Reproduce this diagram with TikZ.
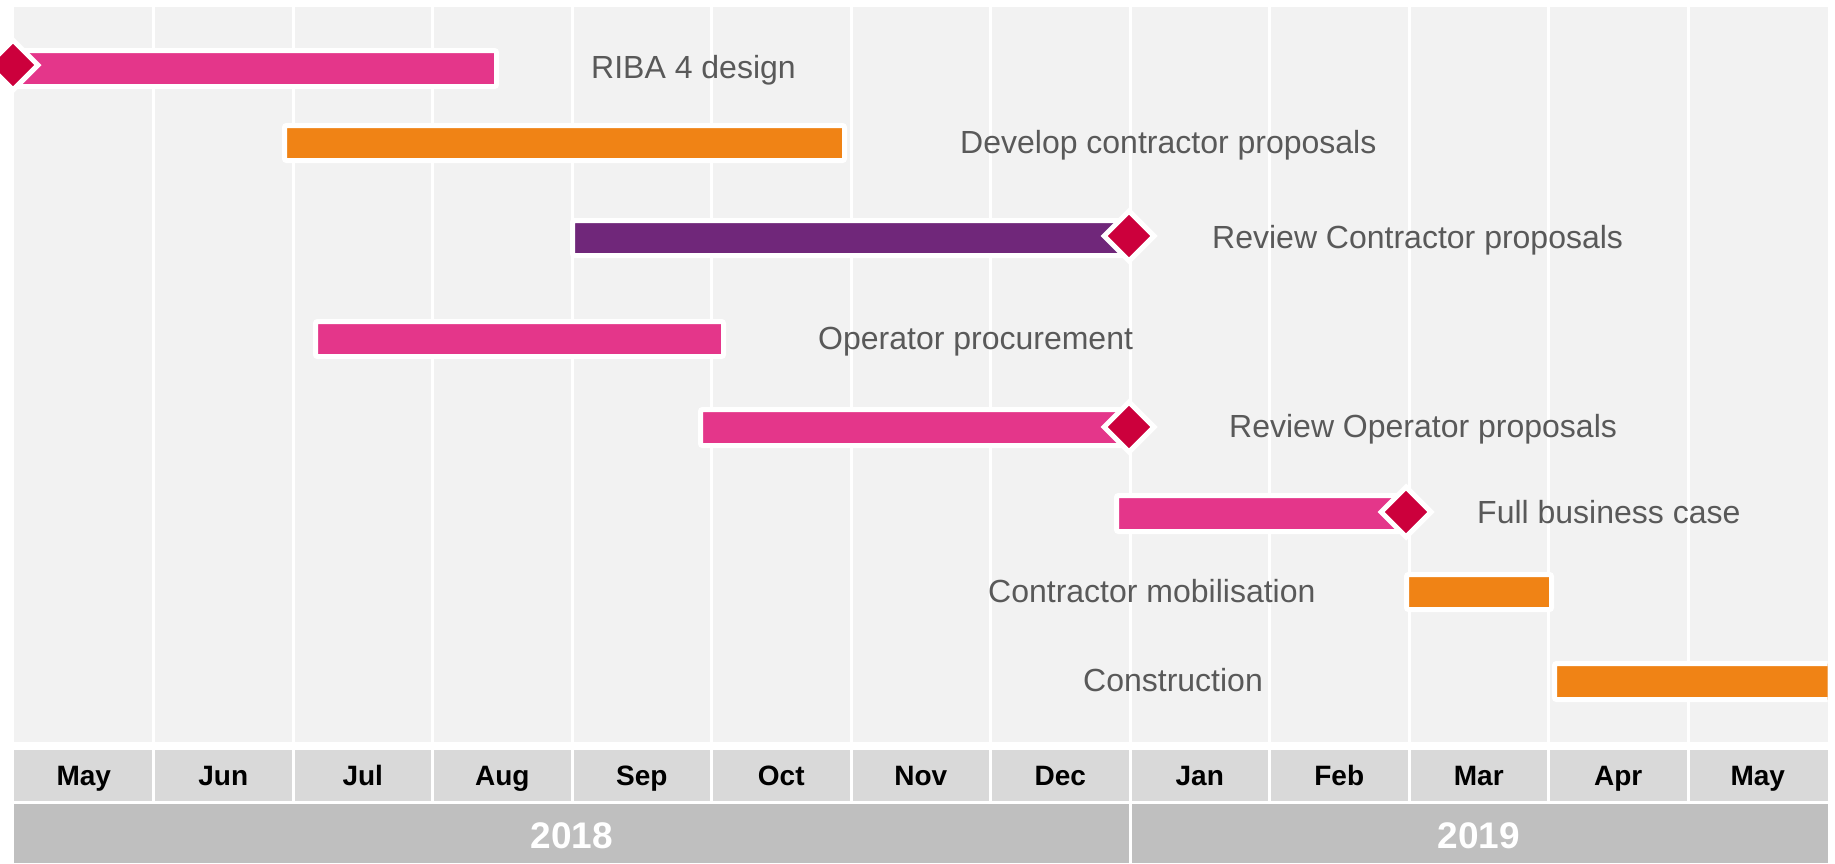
\documentclass[tikz,border=0pt]{standalone}
\usepackage{fontspec}
\setmainfont{Liberation Sans}
\usetikzlibrary{shapes.geometric}
\definecolor{chartbg}{HTML}{F2F2F2}
\definecolor{monthbg}{HTML}{D9D9D9}
\definecolor{yearbg}{HTML}{BFBFBF}
\definecolor{lbltext}{HTML}{595959}
\definecolor{gpink}{HTML}{E4368A}
\definecolor{gorange}{HTML}{F08315}
\definecolor{gpurple}{HTML}{70277A}
\definecolor{gcrimson}{HTML}{CC003C}
\tikzset{
  ganttbar/.style={draw=white, line width=5pt, rounded corners=2pt, inner sep=0pt, outer sep=0pt, rectangle},
  milestone/.style={diamond, aspect=1, draw=white, line width=5pt, fill=gcrimson, inner sep=0pt, minimum width=52pt, minimum height=52pt},
  tasklbl/.style={anchor=base west, inner sep=0pt, text=lbltext, font=\fontsize{32}{38}\selectfont},
  monthlbl/.style={anchor=base, inner sep=0pt, text=black, font=\fontsize{28}{34}\selectfont\bfseries},
  yearlbl/.style={anchor=base, inner sep=0pt, text=white, font=\fontsize{37}{44}\selectfont\bfseries},
  gridline/.style={white, line width=3pt}
}
\newcommand\mkbar[6]{\node[ganttbar, fill=#6, minimum width={#3-#2+5}, minimum height={#5-#4+5}] (#1) at ({(#2+#3)/2},{(#4+#5)/2}) {};}
\begin{document}
\begin{tikzpicture}[x=1pt,y=-1pt]
\useasboundingbox (0,0) rectangle (1835,863);
\fill[white] (0,0) rectangle (1835,863);
% chart area
\fill[chartbg] (14,7) rectangle (1827.5,742);
\foreach \i in {1,...,12} {
  \draw[gridline] ({14+139.5*\i},7) -- ({14+139.5*\i},742);
}
% month row
\fill[monthbg] (14,750) rectangle (1827.5,801);
\foreach \i in {1,...,12} {
  \draw[gridline] ({14+139.5*\i},750) -- ({14+139.5*\i},801);
}
% year row
\fill[yearbg] (14,803.5) rectangle (1827.5,863);
\draw[gridline] (1130,803.5) -- (1130,863);
% month labels
\foreach \m [count=\i from 0] in {May,Jun,Jul,Aug,Sep,Oct,Nov,Dec,Jan,Feb,Mar,Apr,May} {
  \node[monthlbl] (month\i) at ({14+139.5*(\i+0.5)},785) {\m};
}
\node[yearlbl] (y2018) at (572,848) {2018};
\node[yearlbl] (y2019) at (1478.75,848) {2019};
% bars
\begin{scope}
\clip (0,0) rectangle (1827.5,863);
\mkbar{riba}{14}{494}{53}{84}{gpink}
\mkbar{develop}{287}{842}{128}{158}{gorange}
\mkbar{revcon}{575}{1129}{223}{253}{gpurple}
\mkbar{operator}{318}{721}{324}{354}{gpink}
\mkbar{revop}{703}{1129}{412}{443}{gpink}
\mkbar{fbc}{1119}{1406}{498}{529}{gpink}
\mkbar{mobil}{1409}{1549}{577}{607}{gorange}
\mkbar{constr}{1557}{1832}{666}{697}{gorange}
% milestones
\node[milestone] (ms1) at (13,65) {};
\node[milestone] (ms2) at (1129,236) {};
\node[milestone] (ms3) at (1129,427) {};
\node[milestone] (ms4) at (1406,512) {};
\end{scope}
% task labels
\node[tasklbl] (l1) at (591,78.5) {RIBA 4 design};
\node[tasklbl] (l2) at (960,153) {Develop contractor proposals};
\node[tasklbl] (l3) at (1212,248) {Review Contractor proposals};
\node[tasklbl] (l4) at (818,349) {Operator procurement};
\node[tasklbl] (l5) at (1229,437) {Review Operator proposals};
\node[tasklbl] (l6) at (1477,523) {Full business case};
\node[tasklbl] (l7) at (988,602) {Contractor mobilisation};
\node[tasklbl] (l8) at (1083,691) {Construction};
\end{tikzpicture}
\end{document}
